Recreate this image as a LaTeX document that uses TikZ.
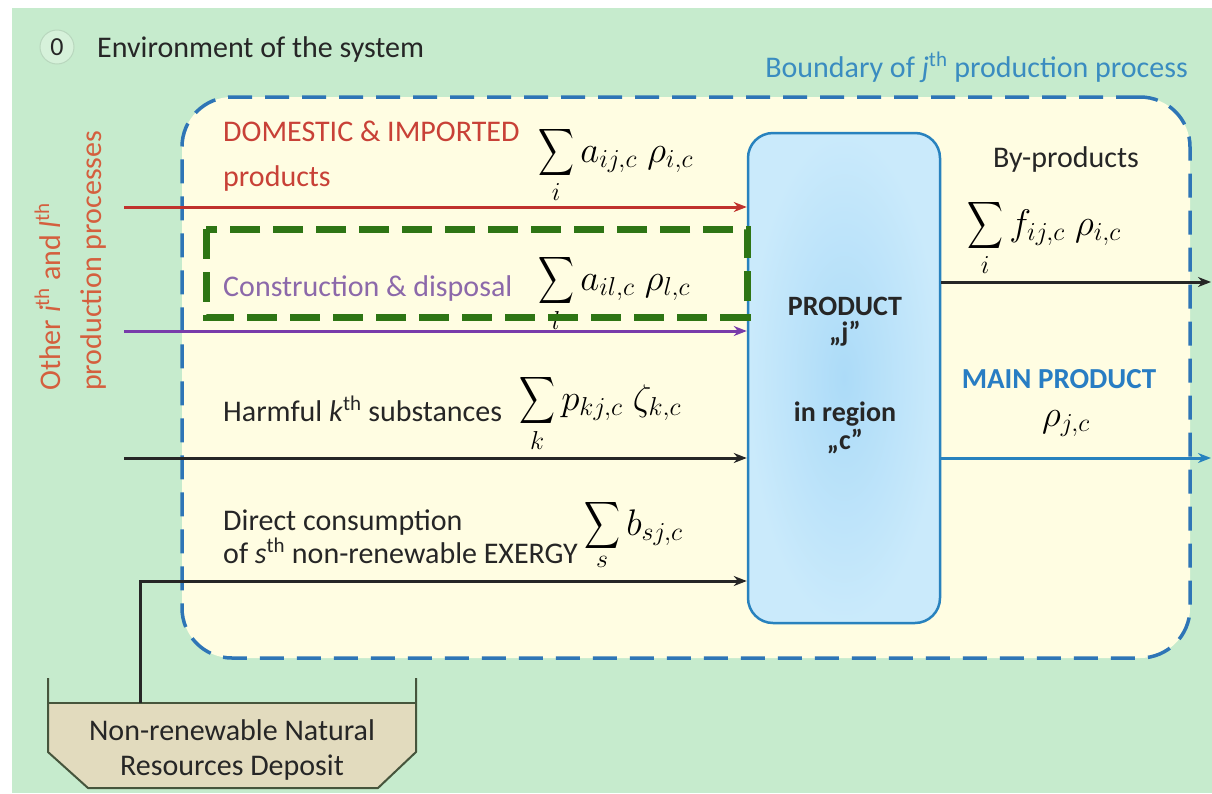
\RequirePackage{fix-cm}
\documentclass[tikz,border=0pt]{standalone}
\usepackage{exscale}
\usepackage{graphicx}
\usepackage[no-math]{fontspec}
\setmainfont{Carlito}
\usetikzlibrary{arrows.meta}
\newcommand{\BSum}{\mathop{\vcenter{\hbox{\scalebox{1}[1.32]{$\displaystyle\sum$}}}}\limits}
\definecolor{envgreen}{RGB}{198,235,205}
\definecolor{zerofill}{RGB}{214,241,218}
\definecolor{zeroline}{RGB}{185,215,190}
\definecolor{inyellow}{RGB}{255,253,226}
\definecolor{bndblue}{RGB}{46,117,182}
\definecolor{bndtext}{RGB}{58,140,192}
\definecolor{boxblue}{RGB}{40,130,190}
\definecolor{boxin}{RGB}{172,219,248}
\definecolor{boxout}{RGB}{202,234,251}
\definecolor{redarrow}{RGB}{192,50,45}
\definecolor{redtext}{RGB}{200,65,55}
\definecolor{purparrow}{RGB}{120,60,170}
\definecolor{purptext}{RGB}{140,105,170}
\definecolor{vtext}{RGB}{212,95,62}
\definecolor{darktext}{RGB}{38,38,38}
\definecolor{mainblue}{RGB}{40,125,195}
\definecolor{hlgreen}{RGB}{46,117,20}
\definecolor{depfill}{RGB}{226,219,190}
\definecolor{depline}{RGB}{70,85,60}
\begin{document}
\begin{tikzpicture}[x=1pt,y=-1pt,
  txt/.style={font=\fontsize{30}{36}\selectfont, text=darktext, inner sep=0pt},
  boldtxt/.style={txt, font=\fontsize{28}{34}\selectfont\bfseries},
  mth/.style={font=\fontsize{37}{42}\selectfont, text=black, inner sep=0pt},
  flow/.style={line width=3pt, -{Stealth[length=13pt,width=10pt]}},
  boundarybox/.style={draw=bndblue, line width=3.5pt, dash pattern=on 24pt off 13pt,
    fill=inyellow, rounded corners=50pt, minimum width=1008pt, minimum height=561pt, inner sep=0pt},
  prodbox/.style={draw=boxblue, line width=2.5pt, rounded corners=25pt,
    inner color=boxin, outer color=boxout, minimum width=192pt, minimum height=490pt, inner sep=0pt},
  highlight/.style={draw=hlgreen, line width=7pt, dash pattern=on 30pt off 13pt},
  deposit/.style={draw=depline, line width=2pt, line join=round}
]
\useasboundingbox (0,0) rectangle (1212,793);
\fill[white] (0,0) rectangle (1212,793);
\fill[envgreen] (12,8) rectangle (1212,793);

% environment label
\node[circle, draw=zeroline, fill=zerofill, line width=1pt, minimum size=34pt, inner sep=0pt,
  font=\fontsize{26}{30}\selectfont, text=darktext] (zero) at (57,47) {0};
\node[txt, anchor=base west] (envlabel) at (97,57) {Environment of the system};

% boundary
\node[boundarybox] (bound) at (686,377.5) {};
\node[txt, anchor=base east, text=bndtext] (bndlabel) at (1188,77)
  {Boundary of \textit{j}\textsuperscript{th} production process};

% product box
\node[prodbox] (prod) at (844,378) {};
\node[boldtxt, anchor=base] (p1) at (845,315) {PRODUCT};
\node[boldtxt, anchor=base] (p2) at (845,341) {„j”};
\node[boldtxt, anchor=base] (p3) at (845,421) {in region};
\node[boldtxt, anchor=base] (p4) at (845,449) {„c”};

% vertical left label
\node[txt, text=vtext, rotate=90, anchor=base west] (vt1) at (60,391)
  {Other \textit{i}\textsuperscript{th} and \textit{l}\textsuperscript{th}};
\node[txt, text=vtext, rotate=90, anchor=base west] (vt2) at (101,391) {production processes};

% input coordinates
\coordinate (inA) at (124,207);
\coordinate (inB) at (124,331);
\coordinate (inC) at (124,458);
\coordinate (yD) at (0,581);
\coordinate (outA) at (1211,282);
\coordinate (outB) at (1211,458);

% inputs
\draw[flow, draw=redarrow] (inA) -- (inA -| prod.west);
\draw[flow, draw=purparrow] (inB) -- (inB -| prod.west);
\draw[flow, draw=darktext] (inC) -- (inC -| prod.west);

% outputs
\draw[flow, draw=darktext] (outA -| prod.east) -- (outA);
\draw[flow, draw=boxblue] (outB -| prod.east) -- (outB);

% input labels
\node[txt, anchor=base west, text=redtext] (domA) at (223,141) {DOMESTIC \& IMPORTED};
\node[txt, anchor=base west, text=redtext] (domB) at (223,186) {products};
\node[mth, anchor=base west] (fA) at (538,162) {$\BSum_i a_{ij,c}\;\rho_{i,c}$};

\node[txt, anchor=base west, text=purptext] (constr) at (223,296) {Construction \& disposal};
\node[mth, anchor=base west] (fB) at (538,290) {$\BSum_l a_{il,c}\;\rho_{l,c}$};

\node[txt, anchor=base west] (harm) at (223,421) {Harmful \textit{k}\textsuperscript{th} substances};
\node[mth, anchor=base west] (fC) at (519,410) {$\BSum_k p_{kj,c}\;\zeta_{k,c}$};

\node[txt, anchor=base west] (dirA) at (223,530) {Direct consumption};
\node[txt, anchor=base west] (dirB) at (223,563) {of \textit{s}\textsuperscript{th} non-renewable EXERGY};
\node[mth, anchor=base west] (fD) at (584,535) {$\BSum_s b_{sj,c}$};

% output labels
\node[txt, anchor=base] (byp) at (1066,167) {By-products};
\node[mth, anchor=base west] (fE) at (967,235) {$\BSum_i f_{ij,c}\;\rho_{i,c}$};
\node[boldtxt, anchor=base, text=mainblue, font=\fontsize{29}{34}\selectfont\bfseries] (mainp) at (1059,388) {MAIN PRODUCT};
\node[mth, anchor=base] (fF) at (1066,426) {$\rho_{j,c}$};

% deposit
\fill[depfill] (48,703) -- (48,752) -- (88,788) -- (378,788) -- (416,752) -- (416,703) -- cycle;
\draw[deposit] (48,678) -- (48,752) -- (88,788) -- (378,788) -- (416,752) -- (416,678);
\draw[deposit] (48,703) -- (416,703);
\node[txt, align=center, anchor=base] (depA) at (232,740) {Non-renewable Natural};
\node[txt, align=center, anchor=base] (depB) at (232,775) {Resources Deposit};
\coordinate (depOut) at (140,703);
\draw[flow, draw=darktext] (depOut) |- (prod.west |- yD);

% highlight
\draw[highlight] (206,229) rectangle (747,317);
\end{tikzpicture}
\end{document}
